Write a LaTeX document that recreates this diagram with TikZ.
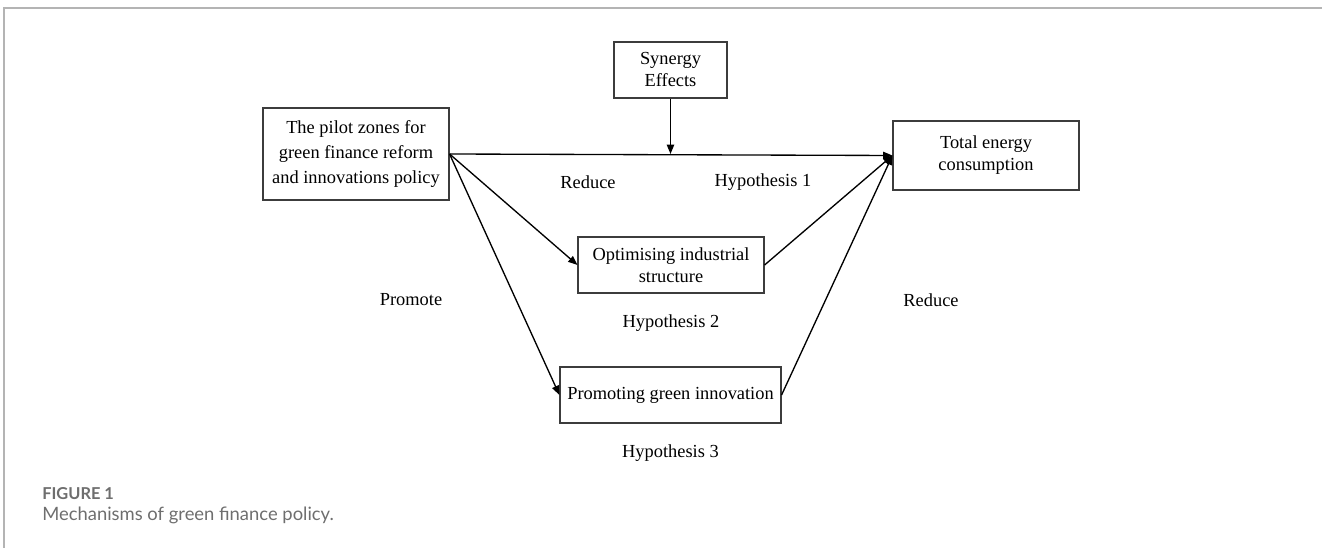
\documentclass[tikz,border=0pt]{standalone}
\usepackage{fontspec}
\setmainfont{Liberation Serif}
\newfontfamily\capfont{Lato}
\usetikzlibrary{arrows.meta, positioning}
\definecolor{framegray}{HTML}{B4B4B4}
\definecolor{captiongray}{HTML}{6E6E6E}
\definecolor{boxline}{HTML}{3C3C3C}
\tikzset{
    stagebox/.style={
        rectangle, draw=boxline, line width=0.85pt, align=center,
        font=\fontsize{13.8}{16.5}\selectfont, inner sep=0pt
    },
    arrow/.style={
        -{Triangle[length=7pt,width=5.5pt]}, line width=1pt, draw=black
    },
    hyplabel/.style={
        font=\fontsize{13.8}{16.5}\selectfont
    }
}

\begin{document}
\begin{tikzpicture}[x=0.75pt, y=-0.75pt]
      \useasboundingbox (0,0) rectangle (1322,548);
      % page frame
      \draw[framegray, line width=0.9pt] (4,548) -- (4,8) -- (1322,8);

      \node[stagebox, minimum width=139.5pt, minimum height=69pt, font=\fontsize{13.8}{18.75}\selectfont] (pilot) at (356,154) {The pilot zones for\\green finance reform\\and innovations policy};
      \node[stagebox, minimum width=84.75pt, minimum height=42pt] (syn) at (670.5,70) {Synergy\\Effects};
      \node[stagebox, minimum width=139.5pt, minimum height=51.75pt] (total) at (986,155.5) {Total energy\\consumption};
      \node[stagebox, minimum width=139.5pt, minimum height=42pt] (optim) at (671,265) {Optimising industrial\\structure};
      \node[stagebox, minimum width=165.75pt, minimum height=42pt] (promo) at (670.5,395) {Promoting green innovation};

      \node[hyplabel] (reduce1) at (588,182) {Reduce};
      \node[hyplabel] (hyp1) at (763,182) {Hypothesis 1};
      \node[hyplabel] (promote) at (411,300) {Promote};
      \node[hyplabel, below=12pt of optim] (hyp2) {Hypothesis 2};
      \node[hyplabel] (reduce2) at (931,300) {Reduce};
      \node[hyplabel, below=12pt of promo] (hyp3) {Hypothesis 3};

      \draw[arrow] (pilot.east) -- (total.west);
      \draw[arrow] (syn.south) -- (syn.south |- pilot.east);
      \draw[arrow] (pilot.east) -- (optim.west);
      \draw[arrow] (pilot.east) -- (promo.west);
      \draw[arrow] (optim.east) -- (total.west);
      \draw[arrow] (promo.east) -- (total.west);

      % caption
      \node[anchor=base west, inner sep=0pt, text=captiongray, font=\capfont\fontsize{12.3}{14}\selectfont\bfseries] (figlabel) at (42,500) {FIGURE 1};
      \node[anchor=base west, inner sep=0pt, text=captiongray, font=\capfont\fontsize{13.8}{16}\selectfont] (figcaption) at (42,521) {Mechanisms of green finance policy.};
    \end{tikzpicture}
\end{document}
